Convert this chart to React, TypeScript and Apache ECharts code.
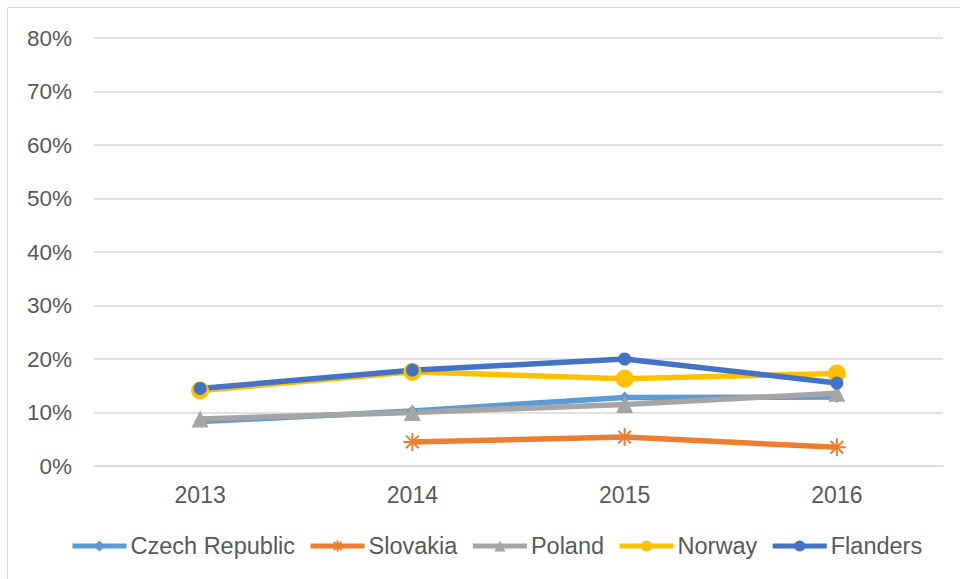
import React, { useEffect, useRef } from "react";
import * as echarts from "echarts";

const years = ["2013", "2014", "2015", "2016"];
const czech = [8.3, 10.3, 12.8, 12.9];
const slovakia: (number | null)[] = [null, 4.5, 5.4, 3.5];
const poland = [8.8, 10.0, 11.5, 13.6];
const norway = [14.1, 17.6, 16.3, 17.3];
const flanders = [14.5, 17.9, 20.0, 15.5];
const yTicks = [0, 10, 20, 30, 40, 50, 60, 70, 80];

const asterisk = "path://M5,0L5,10M1.5,1.5L8.5,8.5M8.5,1.5L1.5,8.5M0,5L10,5";

export default function App() {
  const ref = useRef<HTMLDivElement>(null);
  useEffect(() => {
    if (!ref.current) return;
    const chart = echarts.init(ref.current, undefined, { renderer: "svg" });
    const font = "'Liberation Sans', Arial, sans-serif";
    const mk = (name: string, data: (number | null)[], color: string, symbol: string, size: number) => ({
      name,
      type: "line",
      data,
      connectNulls: false,
      symbol,
      symbolSize: size,
      lineStyle: { color, width: 5.5 },
      itemStyle: { color },
      emphasis: { disabled: true },
    });
    chart.setOption({
      animation: false,
      backgroundColor: "#ffffff",
      graphic: [
        {
          type: "rect",
          shape: { x: 7.5, y: 7.5, width: 1000, height: 1000 },
          style: { fill: "none", stroke: "#d9d9d9", lineWidth: 1 },
          silent: true,
        },
      ],
      grid: { left: 94, right: 17, top: 38, bottom: 113, containLabel: false },
      legend: {
        left: 70,
        top: 534,
        padding: 0,
        itemWidth: 54,
        itemHeight: 14,
        itemGap: 13,
        lineStyle: { width: 5 },
        textStyle: { fontFamily: font, fontSize: 23.5, color: "#595959", padding: [0, 0, 0, -1] },
        data: ["Czech Republic", "Slovakia", "Poland", "Norway", "Flanders"],
      },
      xAxis: {
        type: "category",
        data: years,
        boundaryGap: true,
        axisLine: { show: true, lineStyle: { color: "#d9d9d9", width: 1.5 } },
        axisTick: { show: false },
        axisLabel: { fontFamily: font, fontSize: 23, color: "#595959", margin: 17 },
      },
      yAxis: {
        type: "value",
        min: 0,
        max: 80,
        interval: 10,
        axisLine: { show: false },
        axisTick: { show: false },
        splitLine: { lineStyle: { color: "#d9d9d9", width: 1.5 } },
        axisLabel: {
          fontFamily: font,
          fontSize: 22.5,
          color: "#595959",
          margin: 22,
          formatter: (v: number) => (yTicks.includes(v) ? v + "%" : ""),
        },
      },
      series: [
        mk("Czech Republic", czech, "#5B9BD5", "diamond", 12),
        {
          ...mk("Slovakia", slovakia, "#ED7D31", asterisk, 18),
          itemStyle: { color: "#ED7D31", borderColor: "#ED7D31", borderWidth: 2 },
        },
        mk("Poland", poland, "#A5A5A5", "triangle", 17),
        mk("Norway", norway, "#FFC000", "circle", 18),
        mk("Flanders", flanders, "#4472C4", "circle", 13),
      ],
    });
    return () => chart.dispose();
  }, []);
  return (
    <div
      ref={ref}
      style={{ position: "fixed", left: 0, top: 0, width: 960, height: 579 }}
    />
  );
}
